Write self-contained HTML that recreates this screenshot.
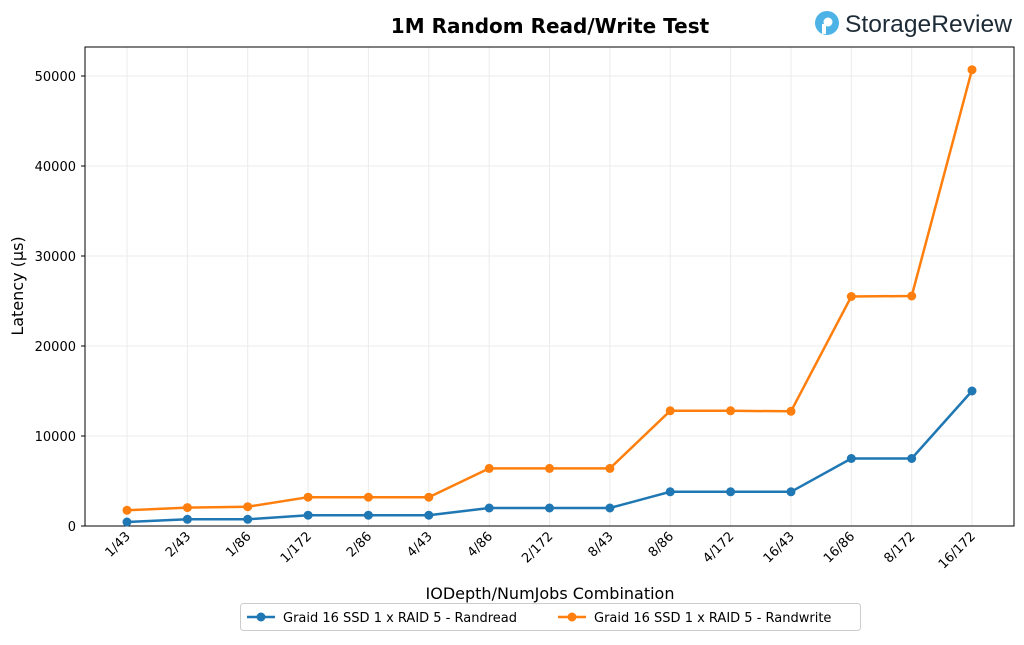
<!DOCTYPE html>
<html><head><style>body{margin:0;background:#fff}svg{font-family:"DejaVu Sans","Liberation Sans",sans-serif}</style></head><body>
<svg width="1024" height="640" viewBox="0 0 1024 640" xmlns="http://www.w3.org/2000/svg">
<rect width="1024" height="640" fill="#fff"/>
<text x="550" y="33" text-anchor="middle" font-size="20" font-weight="bold" fill="#000">1M Random Read/Write Test</text>
<circle cx="827" cy="23" r="12" fill="#4db3e6"/><circle cx="828" cy="22" r="4.5" fill="#fff"/><rect x="822" y="24" width="4" height="10" fill="#fff"/>
<text x="845" y="32" font-size="24" fill="#1d2b36" font-family="Liberation Sans,sans-serif" textLength="167" lengthAdjust="spacingAndGlyphs">StorageReview</text>
<g stroke="#ebebeb" stroke-width="1">
<line x1="85" x2="1014" y1="526" y2="526"/><line x1="85" x2="1014" y1="436" y2="436"/><line x1="85" x2="1014" y1="346" y2="346"/><line x1="85" x2="1014" y1="256" y2="256"/><line x1="85" x2="1014" y1="166" y2="166"/><line x1="85" x2="1014" y1="76" y2="76"/>
<line y1="47" y2="526" x1="127" x2="127"/><line y1="47" y2="526" x1="187.4" x2="187.4"/><line y1="47" y2="526" x1="247.7" x2="247.7"/><line y1="47" y2="526" x1="308.1" x2="308.1"/><line y1="47" y2="526" x1="368.4" x2="368.4"/><line y1="47" y2="526" x1="428.8" x2="428.8"/><line y1="47" y2="526" x1="489.2" x2="489.2"/><line y1="47" y2="526" x1="549.5" x2="549.5"/><line y1="47" y2="526" x1="609.9" x2="609.9"/><line y1="47" y2="526" x1="670.2" x2="670.2"/><line y1="47" y2="526" x1="730.6" x2="730.6"/><line y1="47" y2="526" x1="791" x2="791"/><line y1="47" y2="526" x1="851.3" x2="851.3"/><line y1="47" y2="526" x1="911.7" x2="911.7"/><line y1="47" y2="526" x1="972" x2="972"/>
</g>
<rect x="85" y="47" width="929" height="479" fill="none" stroke="#000" stroke-width="1"/>
<g font-size="13" fill="#000" text-anchor="end">
<text x="76" y="531">0</text><text x="76" y="441">10000</text><text x="76" y="351">20000</text><text x="76" y="261">30000</text><text x="76" y="171">40000</text><text x="76" y="81">50000</text>
</g>
<g stroke="#000"><line x1="81" x2="85" y1="526" y2="526"/><line x1="81" x2="85" y1="436" y2="436"/><line x1="81" x2="85" y1="346" y2="346"/><line x1="81" x2="85" y1="256" y2="256"/><line x1="81" x2="85" y1="166" y2="166"/><line x1="81" x2="85" y1="76" y2="76"/></g>
<g font-size="13" fill="#000" text-anchor="end">
<text transform="translate(131,537) rotate(-45)">1/43</text><text transform="translate(191.4,537) rotate(-45)">2/43</text><text transform="translate(251.7,537) rotate(-45)">1/86</text><text transform="translate(312.1,537) rotate(-45)">1/172</text><text transform="translate(372.4,537) rotate(-45)">2/86</text><text transform="translate(432.8,537) rotate(-45)">4/43</text><text transform="translate(493.2,537) rotate(-45)">4/86</text><text transform="translate(553.5,537) rotate(-45)">2/172</text><text transform="translate(613.9,537) rotate(-45)">8/43</text><text transform="translate(674.2,537) rotate(-45)">8/86</text><text transform="translate(734.6,537) rotate(-45)">4/172</text><text transform="translate(795,537) rotate(-45)">16/43</text><text transform="translate(855.3,537) rotate(-45)">16/86</text><text transform="translate(915.7,537) rotate(-45)">8/172</text><text transform="translate(976,537) rotate(-45)">16/172</text>
</g>
<text x="550" y="599" text-anchor="middle" font-size="16">IODepth/NumJobs Combination</text>
<text transform="translate(23,286) rotate(-90)" text-anchor="middle" font-size="16">Latency (µs)</text>
<polyline fill="none" stroke="#1f77b4" stroke-width="2.5" points="127,522 187.4,519.3 247.7,519.3 308.1,515.2 368.4,515.2 428.8,515.2 489.2,508 549.5,508 609.9,508 670.2,491.8 730.6,491.8 791,491.8 851.3,458.5 911.7,458.5 972,391"/>
<g fill="#1f77b4"><circle cx="127" cy="522" r="4.5"/><circle cx="187.4" cy="519.3" r="4.5"/><circle cx="247.7" cy="519.3" r="4.5"/><circle cx="308.1" cy="515.2" r="4.5"/><circle cx="368.4" cy="515.2" r="4.5"/><circle cx="428.8" cy="515.2" r="4.5"/><circle cx="489.2" cy="508" r="4.5"/><circle cx="549.5" cy="508" r="4.5"/><circle cx="609.9" cy="508" r="4.5"/><circle cx="670.2" cy="491.8" r="4.5"/><circle cx="730.6" cy="491.8" r="4.5"/><circle cx="791" cy="491.8" r="4.5"/><circle cx="851.3" cy="458.5" r="4.5"/><circle cx="911.7" cy="458.5" r="4.5"/><circle cx="972" cy="391" r="4.5"/></g>
<polyline fill="none" stroke="#ff7f0e" stroke-width="2.5" points="127,510.3 187.4,507.6 247.7,506.7 308.1,497.2 368.4,497.2 428.8,497.2 489.2,468.4 549.5,468.4 609.9,468.4 670.2,410.8 730.6,410.8 791,411.3 851.3,296.5 911.7,296 972,69.7"/>
<g fill="#ff7f0e"><circle cx="127" cy="510.3" r="4.5"/><circle cx="187.4" cy="507.6" r="4.5"/><circle cx="247.7" cy="506.7" r="4.5"/><circle cx="308.1" cy="497.2" r="4.5"/><circle cx="368.4" cy="497.2" r="4.5"/><circle cx="428.8" cy="497.2" r="4.5"/><circle cx="489.2" cy="468.4" r="4.5"/><circle cx="549.5" cy="468.4" r="4.5"/><circle cx="609.9" cy="468.4" r="4.5"/><circle cx="670.2" cy="410.8" r="4.5"/><circle cx="730.6" cy="410.8" r="4.5"/><circle cx="791" cy="411.3" r="4.5"/><circle cx="851.3" cy="296.5" r="4.5"/><circle cx="911.7" cy="296" r="4.5"/><circle cx="972" cy="69.7" r="4.5"/></g>
<rect x="240.5" y="603.5" width="620" height="27" rx="3" fill="#fff" stroke="#ccc"/>
<line x1="247" x2="275" y1="617" y2="617" stroke="#1f77b4" stroke-width="2.5"/><circle cx="261" cy="617" r="4.5" fill="#1f77b4"/>
<text x="283" y="622" font-size="13">Graid 16 SSD 1 x RAID 5 - Randread</text>
<line x1="558" x2="586" y1="617" y2="617" stroke="#ff7f0e" stroke-width="2.5"/><circle cx="572" cy="617" r="4.5" fill="#ff7f0e"/>
<text x="594" y="622" font-size="13">Graid 16 SSD 1 x RAID 5 - Randwrite</text>
</svg>
</body></html>
